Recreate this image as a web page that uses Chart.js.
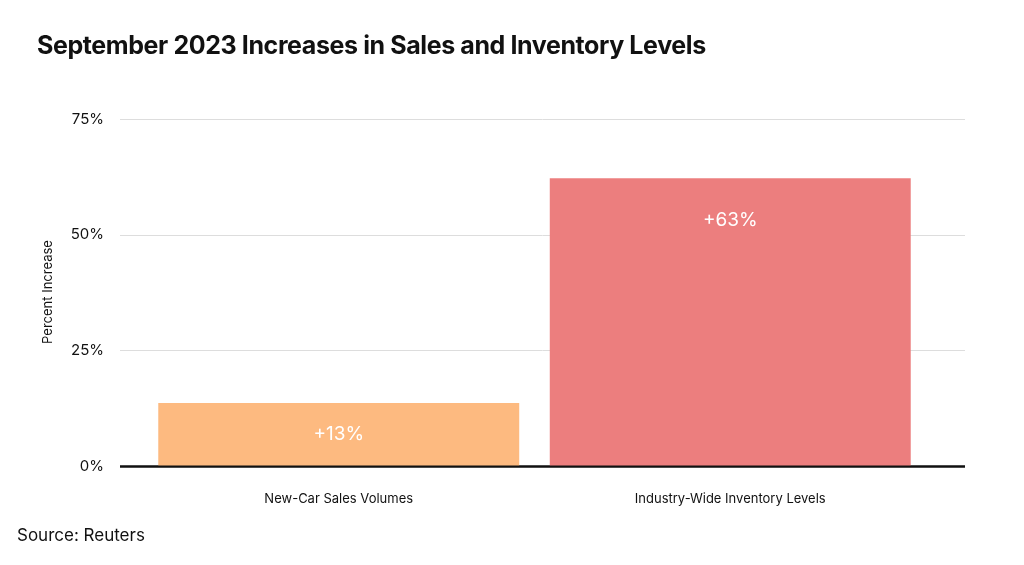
<!DOCTYPE html>
<html>
<head>
<meta charset="utf-8">
<script src="https://cdn.jsdelivr.net/npm/chart.js@4/dist/chart.umd.min.js"></script>
<style>
  body { margin: 0; background: #fff; font-family: Inter, "Noto Sans", sans-serif; }
  #wrap { position: relative; width: 1024px; height: 565px; }
  #titulo { position: absolute; left: 37px; top: 30px; font-size: 25px; font-weight: 700; color: #111; letter-spacing: -0.4px; }
  #fonte { position: absolute; left: 17px; top: 525px; font-size: 17px; color: #111; }
  canvas { position: absolute; left: 0; top: 0; }
</style>
</head>
<body>
<div id="wrap">
  <canvas id="grafico" width="1024" height="565"></canvas>
  <div id="titulo">September 2023 Increases in Sales and Inventory Levels</div>
  <div id="fonte">Source: Reuters</div>
</div>
<script>
// Dados do gráfico
const categorias = ['New-Car Sales Volumes', 'Industry-Wide Inventory Levels'];
const valores = [13.6, 62.2];
const rotulos = ['+13%', '+63%'];
const cores = ['#FDBA80', '#EC7E7E'];

// Grade horizontal mais larga que a área das barras
const gradePlugin = {
  id: 'grade',
  beforeDatasetsDraw(chart) {
    const ctx = chart.ctx;
    const y = chart.scales.y;
    ctx.save();
    y.ticks.forEach(t => {
      const py = Math.round(y.getPixelForValue(t.value)) + 0.5;
      ctx.strokeStyle = t.value === 0 ? '#111' : '#dddddd';
      ctx.lineWidth = t.value === 0 ? 2 : 1;
      ctx.beginPath();
      ctx.moveTo(120, py);
      ctx.lineTo(965, py);
      ctx.stroke();
    });
    ctx.restore();
  }
};

// Rótulos dentro das barras e título do eixo Y
const rotulosPlugin = {
  id: 'rotulos',
  afterDatasetsDraw(chart) {
    const ctx = chart.ctx;
    const meta = chart.getDatasetMeta(0);
    ctx.save();
    ctx.fillStyle = '#fff';
    ctx.font = '19px Inter, "Noto Sans", sans-serif';
    ctx.textAlign = 'center';
    ctx.textBaseline = 'middle';
    meta.data.forEach((bar, i) => {
      const h = bar.base - bar.y;
      ctx.fillText(rotulos[i], bar.x, bar.y + Math.min(42, h / 2));
    });
    // redesenha a linha do zero por cima das barras
    const py = Math.round(chart.scales.y.getPixelForValue(0)) + 0.5;
    ctx.strokeStyle = '#111';
    ctx.lineWidth = 2;
    ctx.beginPath();
    ctx.moveTo(120, py);
    ctx.lineTo(965, py);
    ctx.stroke();
    ctx.translate(48, 292);
    ctx.rotate(-Math.PI / 2);
    ctx.fillStyle = '#111';
    ctx.font = '13px Inter, "Noto Sans", sans-serif';
    ctx.fillText('Percent Increase', 0, 0);
    ctx.restore();
  }
};

new Chart(document.getElementById('grafico'), {
  type: 'bar',
  data: {
    labels: categorias,
    datasets: [{
      data: valores,
      backgroundColor: cores,
      barPercentage: 0.922,
      categoryPercentage: 1
    }]
  },
  options: {
    responsive: false,
    animation: false,
    layout: { padding: { top: 119, right: 98, left: 0, bottom: 0 } },
    plugins: { legend: { display: false }, tooltip: { enabled: false } },
    scales: {
      x: {
        grid: { display: false },
        border: { display: false },
        ticks: { color: '#111', font: { size: 13, family: 'Inter' }, padding: 17 },
        afterFit(scale) { scale.height = 99; }
      },
      y: {
        min: 0, max: 75,
        ticks: { stepSize: 25, color: '#111', font: { size: 15, family: 'Inter' }, padding: 31,
          callback: v => v + '%' },
        grid: { display: false },
        border: { display: false },
        afterFit(scale) { scale.width = 143; }
      }
    }
  },
  plugins: [gradePlugin, rotulosPlugin]
});
</script>
</body>
</html>
